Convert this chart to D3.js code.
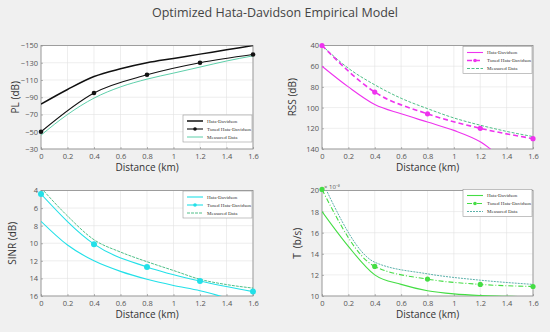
<!DOCTYPE html>
<html>
<head>
<meta charset="utf-8">
<script src="https://cdn.jsdelivr.net/npm/d3@7"></script>
<style>
  body { margin: 0; background: #f0f0f0; }
  svg { display: block; }
</style>
</head>
<body>
<svg id="chart"></svg>
<script>
// Distances (km)
var distFine = [0, 0.2, 0.4, 0.6, 0.8, 1.0, 1.2, 1.4, 1.6];
var distTuned = [0, 0.4, 0.8, 1.2, 1.6];
var xTicks = [0, 0.2, 0.4, 0.6, 0.8, 1, 1.2, 1.4, 1.6];

// PL (dB)
var plHata = [-82, -99, -114, -123, -130, -135, -140, -145, -150];
var plTuned = [-50, -95, -116, -130, -139.5];
var plMeasured = [-46, -70, -89, -102, -111, -118, -125, -132, -138];
var plTicks = [-150, -130, -110, -90, -70, -50, -30];

// RSS (dB)
var rssHata = [60, 80, 97, 106, 114, 122, 133, 152, 165];
var rssTuned = [40, 85, 106, 120, 130];
var rssMeasured = [40, 62, 78, 91, 101, 110, 117, 123, 128];
var rssTicks = [40, 60, 80, 100, 120, 140];

// SINR (dB)
var sinrHata = [7.5, 10.2, 12.0, 13.2, 14.1, 14.8, 15.4, 16.2, 17];
var sinrTuned = [4.4, 10.1, 12.7, 14.3, 15.5];
var sinrMeasured = [3.7, 6.9, 9.6, 11.0, 12.1, 13.1, 14.1, 14.7, 15.1];
var sinrTicks = [4, 6, 8, 10, 12, 14, 16];

// T (b/s, x10^-3)
var tHata = [18.0, 14.7, 12.0, 11.1, 10.5, 10.2, 10.05, 9.98, 9.9];
var tTuned = [20.1, 12.8, 11.6, 11.1, 10.9];
var tMeasured = [20.9, 13.2, 12.1, 11.5, 11.1];
var tTicks = [10, 12, 14, 16, 18, 20];

var legendNames = ["Hata-Davidson", "Tuned Hata-Davidson", "Measured Data"];

var W = 550, H = 332;
var svg = d3.select("#chart").attr("width", W).attr("height", H);

svg.append("text")
    .attr("x", 275).attr("y", 17)
    .attr("text-anchor", "middle")
    .attr("font-family", "Open Sans, sans-serif")
    .attr("font-size", 12.5)
    .attr("fill", "#444")
    .text("Optimized Hata-Davidson Empirical Model");

function drawPanel(p) {
    var x = d3.scaleLinear().domain([0, 1.6]).range([p.left, p.right]);
    var y = d3.scaleLinear().domain(p.yDomain).range([p.bottom, p.top]);
    var id = "clip" + p.name;

    svg.append("clipPath").attr("id", id)
        .append("rect")
        .attr("x", p.left).attr("y", p.top)
        .attr("width", p.right - p.left).attr("height", p.bottom - p.top);

    svg.append("rect")
        .attr("x", p.left).attr("y", p.top)
        .attr("width", p.right - p.left).attr("height", p.bottom - p.top)
        .attr("fill", "#fff");

    // grid
    var grid = svg.append("g");
    grid.selectAll(".gx").data(xTicks).join("line")
        .attr("x1", d => x(d)).attr("x2", d => x(d))
        .attr("y1", p.top).attr("y2", p.bottom)
        .attr("stroke", "#e2e2e2").attr("stroke-width", 0.6);
    grid.selectAll(".gy").data(p.yTicks).join("line")
        .attr("x1", p.left).attr("x2", p.right)
        .attr("y1", d => y(d)).attr("y2", d => y(d))
        .attr("stroke", "#e2e2e2").attr("stroke-width", 0.6);

    // axes
    var xAxis = svg.append("g")
        .attr("transform", `translate(0,${p.bottom})`)
        .call(d3.axisBottom(x).tickValues(xTicks).tickSize(-2).tickPadding(5).tickFormat(d3.format("~g")));
    var yAxis = svg.append("g")
        .attr("transform", `translate(${p.left},0)`)
        .call(d3.axisLeft(y).tickValues(p.yTicks).tickSize(-2).tickPadding(3).tickFormat(d3.format("~g")));
    [xAxis, yAxis].forEach(function (a) {
        a.select(".domain").remove();
        a.selectAll("line").attr("stroke", "#888").attr("stroke-width", 0.6);
        a.selectAll("text")
            .attr("fill", "#555")
            .attr("font-family", "Open Sans, sans-serif")
            .attr("font-size", 7.5);
    });

    svg.append("rect")
        .attr("x", p.left).attr("y", p.top)
        .attr("width", p.right - p.left).attr("height", p.bottom - p.top)
        .attr("fill", "none").attr("stroke", "#8a8a8a").attr("stroke-width", 0.8);

    // axis titles
    svg.append("text")
        .attr("x", (p.left + p.right) / 2).attr("y", p.bottom + 22)
        .attr("text-anchor", "middle")
        .attr("font-family", "Open Sans, sans-serif")
        .attr("font-size", 10)
        .attr("fill", "#333")
        .text("Distance (km)");
    svg.append("text")
        .attr("transform", `translate(${p.yLabelX},${(p.top + p.bottom) / 2}) rotate(-90)`)
        .attr("text-anchor", "middle")
        .attr("font-family", "Open Sans, sans-serif")
        .attr("font-size", 10)
        .attr("fill", "#333")
        .style("white-space", "pre")
        .text(p.yLabel);

    // lines
    var plot = svg.append("g").attr("clip-path", `url(#${id})`);
    var smooth = d3.line().x(d => x(d[0])).y(d => y(d[1])).curve(p.curve);

    plot.append("path")
        .datum(d3.zip(distFine, p.hata))
        .attr("d", smooth)
        .attr("fill", "none")
        .attr("stroke", p.color).attr("stroke-width", p.hataWidth);

    var measuredX = p.measuredX || distFine;
    plot.append("path")
        .datum(d3.zip(measuredX, p.measured))
        .attr("d", smooth)
        .attr("fill", "none")
        .attr("stroke", p.measColor).attr("stroke-width", 0.9)
        .attr("stroke-dasharray", p.measDash);

    plot.append("path")
        .datum(d3.zip(distTuned, p.tuned))
        .attr("d", smooth)
        .attr("fill", "none")
        .attr("stroke", p.color).attr("stroke-width", p.tunedWidth)
        .attr("stroke-dasharray", p.tunedDash);

    svg.append("g").selectAll("circle")
        .data(d3.zip(distTuned, p.tuned))
        .join("circle")
        .attr("cx", d => x(d[0])).attr("cy", d => y(d[1]))
        .attr("r", p.markerR)
        .attr("fill", p.color);

    // legend
    var lg = svg.append("g").attr("transform", `translate(${p.legX},${p.legY})`);
    lg.append("rect")
        .attr("width", 69).attr("height", 27)
        .attr("fill", "#fff").attr("stroke", "#999").attr("stroke-width", 0.6);
    var styles = [
        { c: p.color, w: p.hataWidth, dash: null, m: false },
        { c: p.color, w: p.tunedWidth, dash: p.tunedDash, m: true },
        { c: p.measColor, w: 0.9, dash: p.measDash, m: false }
    ];
    legendNames.forEach(function (name, i) {
        var ly = 6 + i * 8;
        lg.append("line")
            .attr("x1", 4).attr("x2", 20).attr("y1", ly).attr("y2", ly)
            .attr("stroke", styles[i].c).attr("stroke-width", styles[i].w)
            .attr("stroke-dasharray", styles[i].dash);
        if (styles[i].m) {
            lg.append("circle").attr("cx", 12).attr("cy", ly).attr("r", 1.8).attr("fill", styles[i].c);
        }
        lg.append("text")
            .attr("x", 24).attr("y", ly + 1.8)
            .attr("font-family", "Liberation Serif, serif")
            .attr("font-size", 5)
            .attr("fill", "#333")
            .text(name);
    });

    if (p.exponent) {
        svg.append("text")
            .attr("x", p.left + 2).attr("y", p.top - 2)
            .attr("font-family", "Open Sans, sans-serif")
            .attr("font-size", 6)
            .attr("fill", "#555")
            .text("\u00d7 10\u207b\u00b3");
    }
}

var leftCol = { left: 41, right: 253 };
var rightCol = { left: 322, right: 533 };

drawPanel(Object.assign({
    name: "pl", top: 45.5, bottom: 149,
    yDomain: [-30, -150], yTicks: plTicks, yLabel: "PL (dB)", yLabelX: 19,
    hata: plHata, tuned: plTuned, measured: plMeasured,
    color: "#111", measColor: "#4cc9a0", hataWidth: 1.5, tunedWidth: 1.1,
    tunedDash: null, measDash: null, markerR: 2.3, curve: d3.curveMonotoneX,
    legX: 183, legY: 115
}, leftCol));

drawPanel(Object.assign({
    name: "rss", top: 45.5, bottom: 149,
    yDomain: [140, 40], yTicks: rssTicks, yLabel: "RSS (dB)", yLabelX: 296,
    hata: rssHata, tuned: rssTuned, measured: rssMeasured,
    color: "#ee33ee", measColor: "#3cb87a", hataWidth: 1.1, tunedWidth: 1.6,
    tunedDash: "5,3", measDash: "3,1.5", markerR: 2.6, curve: d3.curveMonotoneX,
    legX: 463, legY: 46.5
}, rightCol));

drawPanel(Object.assign({
    name: "sinr", top: 190.5, bottom: 296,
    yDomain: [16, 4], yTicks: sinrTicks, yLabel: "SINR (dB)", yLabelX: 16,
    hata: sinrHata, tuned: sinrTuned, measured: sinrMeasured,
    color: "#22e0e8", measColor: "#3cb87a", hataWidth: 1.1, tunedWidth: 1.1,
    tunedDash: null, measDash: "3,1", markerR: 3, curve: d3.curveMonotoneX,
    legX: 183, legY: 191
}, leftCol));

drawPanel(Object.assign({
    name: "t", top: 190.5, bottom: 296,
    yDomain: [10, 20], yTicks: tTicks, yLabel: "T\u00a0\u00a0(b/s)", yLabelX: 301,
    hata: tHata, tuned: tTuned, measured: tMeasured, measuredX: distTuned,
    color: "#44dd44", measColor: "#4aa8a0", hataWidth: 1.1, tunedWidth: 1.1,
    tunedDash: "5,2,1,2", measDash: "2,1", markerR: 2.6, curve: d3.curveMonotoneX,
    legX: 463, legY: 189.5, exponent: true
}, rightCol));
</script>
</body>
</html>
